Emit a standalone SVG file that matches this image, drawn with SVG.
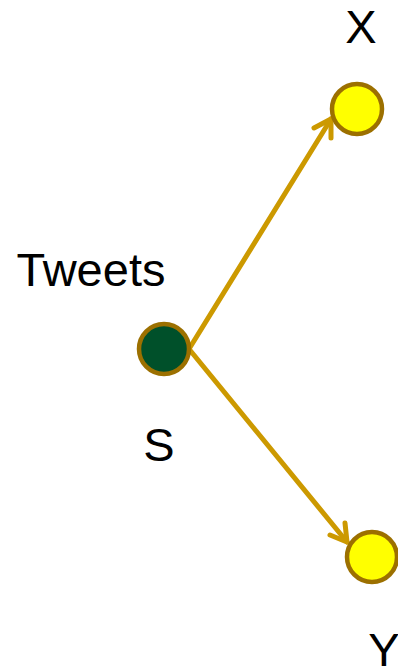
<svg xmlns="http://www.w3.org/2000/svg" width="398" height="670" viewBox="0 0 398 670">
<style>
.lbl{font-family:"Liberation Sans",Arial,sans-serif;font-size:47px;fill:#000}
.node{stroke:#9C7000;stroke-width:4.5}
.edge{stroke:#CC9900;stroke-width:5;fill:none;stroke-linecap:round;stroke-linejoin:round}
</style>
<g id="connectors">
<g id="e-S-X">
<line class="edge" x1="189" y1="349" x2="331" y2="119"/>
<polyline class="edge" points="314,128 331,119 331,138"/>
</g>
<g id="e-S-Y">
<line class="edge" x1="189" y1="349" x2="347" y2="542"/>
<polyline class="edge" points="330,535 347,542 345,523"/>
</g>
</g>
<g id="node-X">
<circle class="node" cx="357" cy="109" r="25" fill="#FFFF00"/>
<text class="lbl" x="361" y="43" text-anchor="middle">X</text>
</g>
<g id="node-S">
<circle class="node" cx="164" cy="349" r="25" fill="#00502A"/>
<text class="lbl" x="159" y="461" text-anchor="middle">S</text>
<text class="lbl" x="91" y="286" text-anchor="middle">Tweets</text>
</g>
<g id="node-Y">
<circle class="node" cx="372" cy="557" r="25" fill="#FFFF00"/>
<text class="lbl" x="384" y="666" text-anchor="middle">Y</text>
</g>
</svg>
